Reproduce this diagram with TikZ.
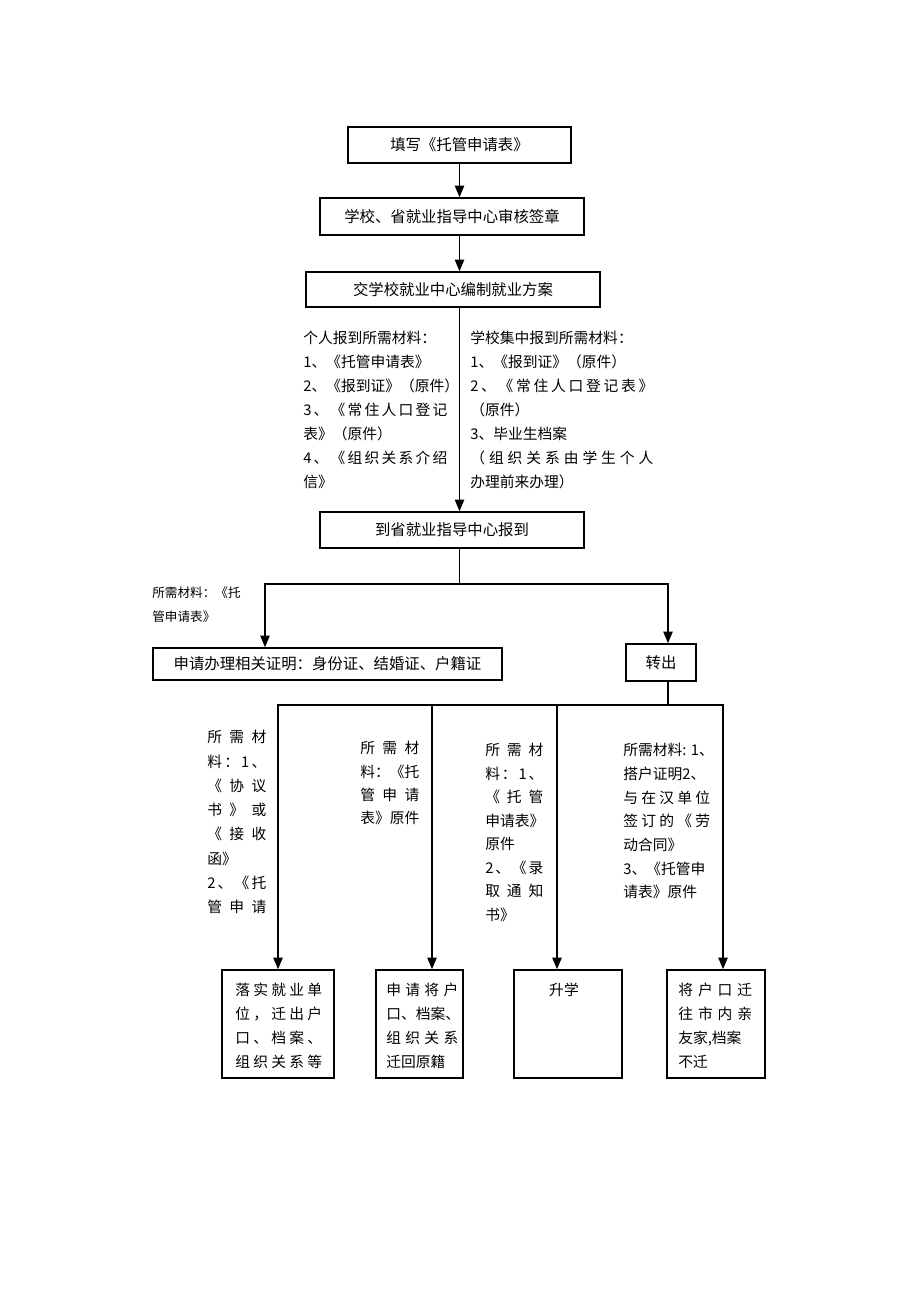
\documentclass[tikz,border=0pt]{standalone}
\usepackage{fontspec}
\setmainfont{Noto Sans CJK SC}
\usetikzlibrary{arrows.meta,fit}
% spread a short line of characters over a fixed width
\ExplSyntaxOn
\NewDocumentCommand\spreadline{mm}{\makebox[#1][s]{\tl_map_inline:nn{#2}{##1\hfil}\unskip}}
\ExplSyntaxOff
\newcommand\boxfont{\fontsize{10}{15.6}\selectfont}
\newcommand\notefont{\fontsize{9.6}{15.6}\selectfont}
\begin{document}
\begin{tikzpicture}[x=0.65pt,y=-0.65pt,font=\boxfont,
    box/.style={draw,line width=1pt,inner sep=0pt},
    note/.style={inner sep=0pt,anchor=north west,align=left,font=\notefont},
    arr/.style={line width=1pt,-{Triangle[length=7.5pt,width=6pt]}},
    line/.style={line width=1pt}]
  \useasboundingbox (0,0) rectangle (920,1302);
  % main chain
  \node[box,fit={(348,127) (571,163)},label=center:{填写《托管申请表》}] (fill) {};
  \node[box,fit={(320,198) (584,235)},label=center:{学校、省就业指导中心审核签章}] (check) {};
  \node[box,fit={(306,272) (600,307)},label=center:{交学校就业中心编制就业方案}] (plan) {};
  \node[box,fit={(320,512) (584,548)},label=center:{到省就业指导中心报到}] (report) {};
  \node[box,fit={(153,648) (502,680)},label=center:{申请办理相关证明：身份证、结婚证、户籍证}] (proof) {};
  \node[box,fit={(626,644) (696,681)},label=center:{转出}] (out) {};
  % bottom boxes
  \node[box,fit={(222,970) (334,1078)}] (job) {};
  \node[box,fit={(376,970) (463,1078)}] (home) {};
  \node[box,fit={(514,970) (622,1078)}] (study) {};
  \node[box,fit={(667,970) (765,1078)}] (kin) {};
  \node[note] (jobtxt) at (235,983) {\spreadline{56.5pt}{落实就业单}\\\spreadline{56.5pt}{位，迁出户}\\
    \spreadline{56.5pt}{口、档案、}\\\spreadline{56.5pt}{组织关系等}};
  \node[note] (hometxt) at (386,983) {\spreadline{46.8pt}{申请将户}\\口、档案、\\
    \spreadline{46.8pt}{组织关系}\\迁回原籍};
  \node[note,anchor=north] (studytxt) at (564,983) {升学};
  \node[note] (kintxt) at (678,983) {\spreadline{48pt}{将户口迁}\\\spreadline{48pt}{往市内亲}\\
    友家,档案\\不迁};
  % needed materials
  \node[note] (selfmat) at (303,331) {个人报到所需材料：\\1、《托管申请表》\\2、《报到证》（原件）\\
    \spreadline{93.6pt}{3、《常住人口登记}\\表》（原件）\\\spreadline{93.6pt}{4、《组织关系介绍}\\信》};
  \node[note] (schoolmat) at (470,331) {学校集中报到所需材料：\\1、《报到证》（原件）\\
    \spreadline{119pt}{2、《常住人口登记表》}\\（原件）\\3、毕业生档案\\
    \spreadline{119pt}{（组织关系由学生个人}\\办理前来办理）};
  \node[note,font=\fontsize{8.2}{15.6}\selectfont] (certmat) at (152,587) {所需材料：《托\\管申请表》};
  \node[note,font=\fontsize{9.6}{15.8}\selectfont] (jobmat) at (207,730) {\spreadline{38.4pt}{所需材}\\
    \spreadline{38.4pt}{料：1、}\\\spreadline{38.4pt}{《协议}\\\spreadline{38.4pt}{书》或}\\
    \spreadline{38.4pt}{《接收}\\函》\\\spreadline{38.4pt}{2、《托}\\\spreadline{38.4pt}{管申请}};
  \node[note,font=\fontsize{9.6}{15.2}\selectfont] (homemat) at (360,741) {\spreadline{38.4pt}{所需材}\\
    \spreadline{38.4pt}{料：《托}\\\spreadline{38.4pt}{管申请}\\表》原件};
  \node[note,font=\fontsize{9.6}{15.3}\selectfont] (studymat) at (485,743) {\spreadline{37.7pt}{所需材}\\
    \spreadline{37.7pt}{料：1、}\\\spreadline{37.7pt}{《托管}\\申请表》\\原件\\
    \spreadline{37.7pt}{2、《录}\\\spreadline{37.7pt}{取通知}\\书》};
  \node[note,font=\fontsize{9.6}{15.4}\selectfont] (kinmat) at (623,743) {所需材料: 1、\\搭户证明2、\\
    \spreadline{56.5pt}{与在汉单位}\\\spreadline{56.5pt}{签订的《劳}\\动合同》\\3、《托管申\\请表》原件};
  % connectors
  \draw[arr] (fill.south) -- (fill.south |- check.north);
  \draw[arr] (fill.south |- check.south) -- (fill.south |- plan.north);
  \draw[arr] (fill.south |- plan.south) -- (fill.south |- report.north);
  \coordinate (split) at (459.5,584);
  \coordinate (toleft) at (265,584);
  \coordinate (toright) at (668,584);
  \draw[line] (fill.south |- report.south) -- (split);
  \draw[arr] (split) -| (toleft |- proof.north);
  \draw[arr] (split) -| (toright |- out.north);
  \coordinate (outjoin) at (668,705);
  \coordinate (jobtop) at (278,705);
  \coordinate (hometop) at (432,705);
  \coordinate (studytop) at (557,705);
  \coordinate (kintop) at (723,705);
  \draw[line] (toright |- out.south) -- (outjoin);
  \draw[arr] (outjoin) -| (jobtop |- job.north);
  \draw[arr] (outjoin) -| (kintop |- kin.north);
  \draw[arr] (hometop) -- (hometop |- home.north);
  \draw[arr] (studytop) -- (studytop |- study.north);
\end{tikzpicture}
\end{document}
